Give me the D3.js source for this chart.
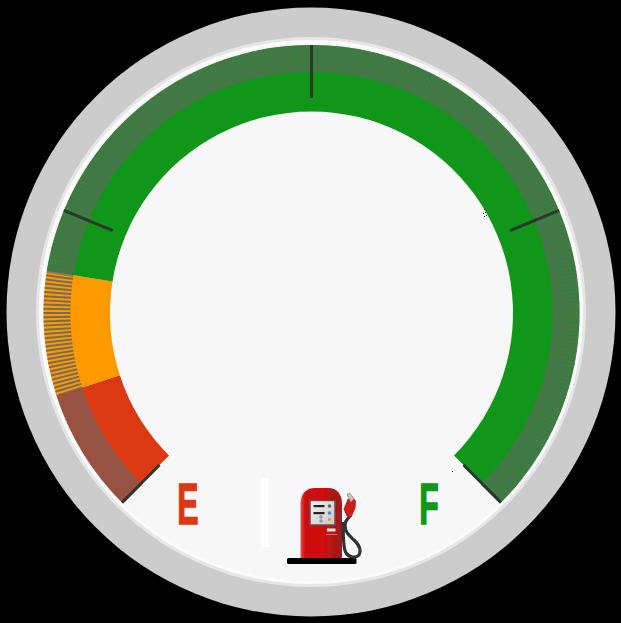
<!DOCTYPE html>
<html><head><meta charset="utf-8">
<script src="https://cdnjs.cloudflare.com/ajax/libs/d3/7.8.5/d3.min.js"></script>
<style>html,body{margin:0;padding:0;background:#000;overflow:hidden}svg{display:block}</style>
</head><body><div id="c"></div>
<script>
const zoneStart=[0,10,20];
const zoneEnd=[10,20,100];
const zoneColor=["#dc3912","#ff9900","#109618"];
const majorTicks=[0,25,50,75,100];
const minorCount=300;
const labels=["E","F"];
const labelColor=["#dc3912","#109618"];

const W=621,H=623;
const svg=d3.select("#c").append("svg").attr("width",W).attr("height",H);
const defs=svg.append("defs");
defs.append("filter").attr("id","soft").append("feGaussianBlur").attr("stdDeviation",0.35);
const bodyG=defs.append("linearGradient").attr("id","body");
[[0,"#e8504f"],[0.1,"#cc1010"],[0.55,"#d01010"],[0.8,"#ac1414"],[1,"#9a2020"]].forEach(s=>bodyG.append("stop").attr("offset",s[0]).attr("stop-color",s[1]));
const panelG=defs.append("linearGradient").attr("id","panel").attr("x1",0).attr("x2",1).attr("y1",0).attr("y2",1);
[[0,"#f2f2f2"],[1,"#c8c8c8"]].forEach(s=>panelG.append("stop").attr("offset",s[0]).attr("stop-color",s[1]));

const ring=svg.append("g").attr("transform","translate(311,312)");
[[304.5,"#cccccc"],[275,"#e6e6e6"],[272,"#fbfbfb"],[269,"#f7f7f7"]].forEach(d=>ring.append("circle").attr("r",d[0]).attr("fill",d[1]));

const g=svg.append("g").attr("transform","translate(311.5,313)");
const angle=d3.scaleLinear().domain([0,100]).range([-135,135]);
const rad=v=>angle(v)*Math.PI/180;
const arc=d3.arc().innerRadius(201.5).outerRadius(268).startAngle(d=>rad(d.a)).endAngle(d=>rad(d.b));
g.selectAll("path.zone").data(zoneStart.map((a,i)=>({a,b:zoneEnd[i],c:zoneColor[i]}))).join("path")
 .attr("class","zone").attr("d",arc).attr("fill",d=>d.c);

const px=(v,r)=>r*Math.sin(rad(v)), py=(v,r)=>-r*Math.cos(rad(v));
const minorVals=d3.range(minorCount+1).map(i=>i/minorCount*100);
const inOrange=v=>v>=zoneStart[1]&&v<zoneEnd[1];
g.selectAll("line.minor").data(minorVals).join("line").attr("class","minor")
 .attr("x1",d=>px(d,241)).attr("y1",d=>py(d,241)).attr("x2",d=>px(d,268)).attr("y2",d=>py(d,268))
 .attr("stroke","#666").attr("stroke-width",d=>inOrange(d)?2:3.6).attr("stroke-opacity",d=>inOrange(d)?0.9:0.66);
g.selectAll("line.major").data(majorTicks).join("line").attr("class","major")
 .attr("x1",d=>px(d,215)).attr("y1",d=>py(d,215)).attr("x2",d=>px(d,268)).attr("y2",d=>py(d,268))
 .attr("stroke","#2e352e").attr("stroke-width",3);

// E / F labels
svg.selectAll("text.lab").data(labels).join("text").attr("class","lab")
 .attr("transform",(d,i)=>`translate(${[188,429][i]},523.5) scale(0.55,1)`)
 .attr("text-anchor","middle").attr("font-family","'Liberation Sans Narrow','Liberation Sans'").attr("font-weight",700)
 .attr("font-size",58).attr("fill",(d,i)=>labelColor[i])
 .attr("stroke",(d,i)=>labelColor[i]).attr("stroke-width",1.6).text(d=>d);

svg.append("rect").attr("x",261.5).attr("y",478).attr("width",7.5).attr("height",69).attr("fill","#fff");
// stray specks
[[484,209],[485,212],[483,213],[486,215],[484,216],[452,471]].forEach(p=>svg.append("rect").attr("x",p[0]).attr("y",p[1]).attr("width",1).attr("height",1).attr("fill","#222"));

// fuel pump
const p=svg.append("g").attr("filter","url(#soft)");
p.append("rect").attr("x",287).attr("y",558).attr("width",69.5).attr("height",6).attr("rx",1.5).attr("fill","#000");
p.append("path").attr("d","M300.5 558V504C300.5 494 306 488 315 488H328C337 488 342 494 342 504V558Z").attr("fill","url(#body)");
p.append("path").attr("d","M351 514C349 519 345 519 345 525C345 533 350 536 355 541C360 546 361 551 359 555C356 558.5 349 557.5 346 553C342.5 547 343.5 533 343 522")
 .attr("fill","none").attr("stroke","#333").attr("stroke-width",3.2);
p.append("path").attr("d","M346.5 516L343.5 509L346.5 502L347.5 499L353 497.5L356 501L355.5 508L351.5 517Z").attr("fill","#cc1a1a");
p.append("path").attr("d","M347 494.5L349.5 493L354 498.5L351 502Z").attr("fill","#c4c4c4").attr("stroke","#8a8a8a").attr("stroke-width",0.8);
p.append("rect").attr("x",310).attr("y",500.5).attr("width",25).attr("height",24.5).attr("fill","url(#panel)").attr("stroke","#6d4a4a").attr("stroke-width",1.5);
[[313.5,505,11],[313.5,512,11]].forEach(b=>p.append("rect").attr("x",b[0]).attr("y",b[1]).attr("width",b[2]).attr("height",2.2).attr("fill","#222"));
[[329.5,506,"#666"],[329.5,513,"#3a8fe0"],[329.5,519.5,"#e8a040"],[321,517,"#999"],[321,521,"#999"]].forEach(b=>p.append("circle").attr("cx",b[0]).attr("cy",b[1]).attr("r",1.8).attr("fill",b[2]));
p.append("rect").attr("x",327).attr("y",528.5).attr("width",8.5).attr("height",3).attr("fill","#f6e4e4");
p.append("rect").attr("x",326).attr("y",534).attr("width",11).attr("height",1).attr("fill","#e07070");
</script></body></html>
